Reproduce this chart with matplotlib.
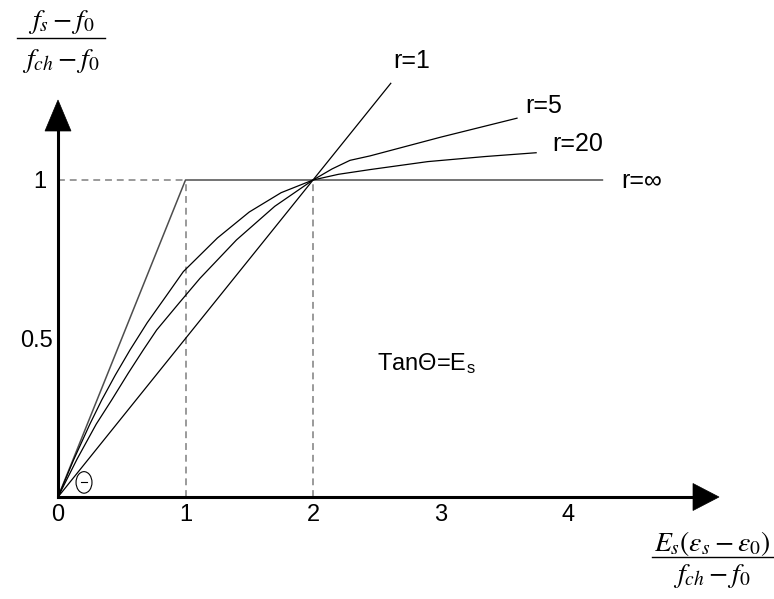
import matplotlib
matplotlib.use("Agg")
import matplotlib.pyplot as plt
from matplotlib.patches import Polygon, Ellipse
from matplotlib.lines import Line2D
from matplotlib.transforms import ScaledTranslation

plt.rcParams['font.family'] = ['Liberation Sans', 'DejaVu Sans']
plt.rcParams['mathtext.fontset'] = 'stix'

# ---- curve data (normalised stress vs normalised strain) ----
r_inf_x = [0.0, 1.0, 4.27]
r_inf_y = [0.0, 1.0, 1.0]

r1_x = [0.0, 2.61]
r1_y = [0.0, 1.305]

r5_x = [0.0, 0.15, 0.30, 0.421, 0.55, 0.669, 0.774, 0.95, 1.114, 1.40, 1.70, 2.00,
        2.15, 2.29, 2.447, 3.00, 3.60]
r5_y = [0.0, 0.12, 0.23, 0.306, 0.39, 0.464, 0.527, 0.612, 0.690, 0.811, 0.917, 1.000,
        1.035, 1.062, 1.076, 1.135, 1.195]

r20_x = [0.0, 0.12, 0.25, 0.343, 0.45, 0.565, 0.70, 0.85, 0.983, 1.114, 1.25, 1.50,
         1.75, 2.00, 2.20, 2.45, 2.90, 3.35, 3.75]
r20_y = [0.0, 0.115, 0.23, 0.306, 0.385, 0.464, 0.55, 0.635, 0.711, 0.763, 0.817, 0.899,
         0.960, 1.000, 1.018, 1.033, 1.058, 1.074, 1.086]

x_ticks = [0, 1, 2, 3, 4]
x_tick_labels = ['0', '1', '2', '3', '4']
y_ticks = [0.5, 1]
y_tick_labels = ['0.5', '1']

curve_labels = ['r=1', 'r=5', 'r=20', 'r=∞']
curve_label_pos = [(2.627, 1.353), (3.663, 1.211), (3.88, 1.09), (4.42, 0.975)]

# ---- figure / axes geometry (pixels) ----
W, H = 774, 599
ox, oy = 58, 497          # origin
sx, sy = 127.5, 317       # pixels per unit
right_px, top_px = 693, 131

fig = plt.figure(figsize=(W / 100, H / 100), dpi=100)
ax = fig.add_axes([ox / W, (H - oy) / H, (right_px - ox) / W, (oy - top_px) / H])
xmax = (right_px - ox) / sx
ymax = (oy - top_px) / sy
ax.set_xlim(0, xmax)
ax.set_ylim(0, ymax)

for s in ['top', 'right']:
    ax.spines[s].set_visible(False)
for s in ['left', 'bottom']:
    ax.spines[s].set_linewidth(2.2)
    ax.spines[s].set_color('black')

# ticks
ax.set_xticks(x_ticks)
ax.set_xticklabels(x_tick_labels)
ax.set_yticks(y_ticks)
ax.set_yticklabels(y_tick_labels)
ax.set_xticks([3, 4], minor=True)
ax.set_yticks([0.5], minor=True)
ax.tick_params(which='major', length=0, labelsize=17)
ax.tick_params(axis='x', which='major', pad=5)
ax.tick_params(axis='y', which='major', pad=4)
ax.tick_params(which='minor', direction='in', length=9.4, width=1.1, color='#808080')
ylabels = ax.get_yticklabels()
ylabels[1].set_transform(ylabels[1].get_transform() + ScaledTranslation(-6 / 100, 0, fig.dpi_scale_trans))

# arrow heads on the axes
ah = 26 / sx
aw = 13.5 / sy
ax.add_patch(Polygon([[xmax, -aw], [xmax + ah, 0], [xmax, aw]], closed=True,
                     fc='black', ec='black', lw=0.5, clip_on=False))
bh = 31 / sy
bw = 13 / sx
ax.add_patch(Polygon([[-bw, ymax], [0, ymax + bh], [bw, ymax]], closed=True,
                     fc='black', ec='black', lw=0.5, clip_on=False))

# dashed guides
dash = dict(color='#7f7f7f', lw=1.1, linestyle=(0, (4.5, 3.2)), clip_on=False)
ax.plot([0, 1], [1, 1], **dash)
ax.plot([1, 1], [0, 1], **dash)
ax.plot([2, 2], [0, 1], **dash)

# curves
ax.plot(r_inf_x, r_inf_y, color='#4d4d4d', lw=1.1, clip_on=False)
ax.plot(r1_x, r1_y, color='black', lw=0.9, clip_on=False)
ax.plot(r5_x, r5_y, color='black', lw=0.9, clip_on=False)
ax.plot(r20_x, r20_y, color='black', lw=0.9, clip_on=False)

for txt, (tx, ty) in zip(curve_labels, curve_label_pos):
    ax.text(tx, ty, txt, fontsize=18, ha='left', va='baseline', clip_on=False)

ax.text(2.5, 0.40, 'TanΘ=E$_{\\mathregular{s}}$', fontsize=17, ha='left', va='baseline')

# angle marker at the origin
ax.add_patch(Ellipse((0.204, 0.046), 0.125, 0.068, fc='none', ec='black', lw=0.8, clip_on=False))
ax.plot([0.182, 0.228], [0.046, 0.046], color='black', lw=0.8)

# axis titles as stacked fractions
def frac(cx, num, den, num_y, bar_y, den_y, bar_x0, bar_x1):
    fig.text(cx / W, 1 - num_y / H, num, fontsize=20, ha='center', va='center')
    fig.text(cx / W, 1 - den_y / H, den, fontsize=20, ha='center', va='center')
    fig.add_artist(Line2D([bar_x0 / W, bar_x1 / W], [1 - bar_y / H, 1 - bar_y / H],
                          color='black', lw=1.0, transform=fig.transFigure))

frac(61, r'$f_s - f_0$', r'$f_{ch} - f_0$', 22, 38, 61, 17, 105)
frac(712, r'$E_s(\varepsilon_s - \varepsilon_0)$', r'$f_{ch} - f_0$', 543, 557, 576, 652, 773)

fig.savefig('out.png', dpi=100)
